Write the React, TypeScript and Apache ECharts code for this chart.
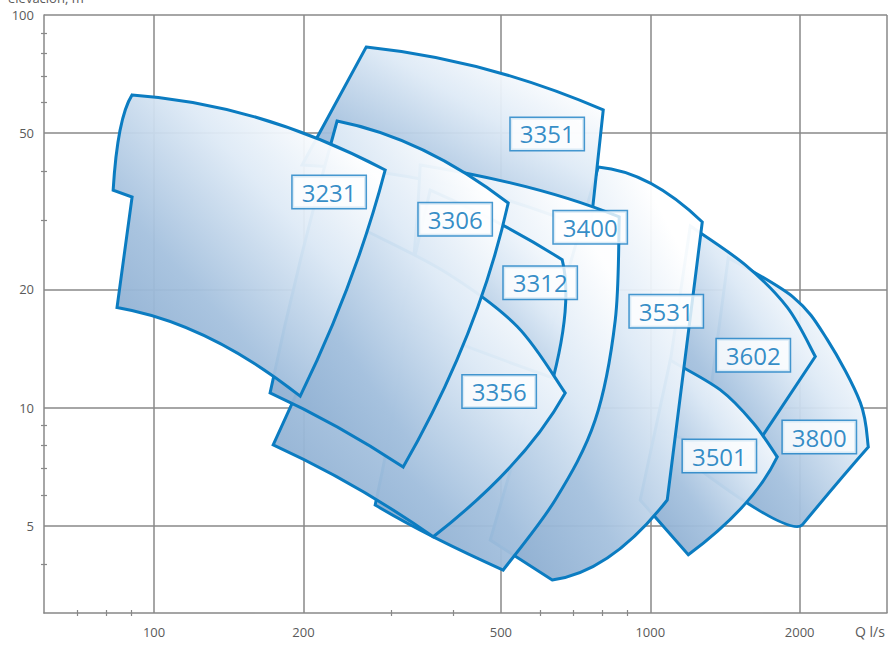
import React, { useEffect, useRef } from 'react';
import * as echarts from 'echarts';

type Pt = [number, number];

// Axis ticks
const qMajor = [100, 200, 500, 1000, 2000];
const qGrid = [100, 200, 500, 1000, 2000, 3000];
const qMinor = [70, 80, 90, 300, 400, 600, 700, 800, 900];
const hMajor = [5, 10, 20, 50, 100];
const hMinor = [4, 6, 7, 8, 9, 30, 40, 60, 70, 80, 90];

// Pump working ranges (Q l/s, H m), back to front
const pumpNames = ['3800', '3602', '3501', '3531', '3351', '3400', '3312', '3356', '3306', '3231'];
const labelQ = [2191, 1613, 1378, 1077, 619.8, 756.8, 600, 496, 404.4, 225.3];
const labelH = [8.42, 13.6, 7.53, 17.6, 49.8, 28.8, 20.8, 11.0, 30.2, 35.4];

const outline3800: Pt[][] = [
  [[1436, 24.1], [1943, 19.1], [2274, 14.9], [2651, 10.3], [2751, 7.94]],
  [[2751, 7.94], [2382, 6.43], [2025, 5.03]],
  [[2025, 5.03], [1746, 5.27], [1261, 6.94]],
  [[1261, 6.94], [1436, 24.1]],
];
const outline3602: Pt[][] = [
  [[1204, 29.0], [1554, 23.1], [1889, 18.0], [2151, 13.5]],
  [[2151, 13.5], [1554, 7.27]],
  [[1554, 7.27], [1047, 8.77]],
  [[1047, 8.77], [1204, 29.0]],
];
const outline3501: Pt[][] = [
  [[1097, 13.2], [1384, 11.1], [1613, 9.14], [1803, 7.49]],
  [[1803, 7.49], [1540, 5.62], [1193, 4.22]],
  [[1193, 4.22], [954.5, 5.82]],
  [[954.5, 5.82], [1097, 13.2]],
];
const outline3531: Pt[][] = [
  [[785.3, 41.0], [1000, 37.3], [1273, 29.7]],
  [[1273, 29.7], [1171, 12.7], [1082, 5.82]],
  [[1082, 5.82], [830.6, 4.19], [634.5, 3.64]],
  [[634.5, 3.64], [475.9, 4.6]],
  [[475.9, 4.6], [622.8, 14.9], [785.3, 41.0]],
];
const outline3351: Pt[][] = [
  [[267.6, 82.9], [465, 72.9], [804, 57.3]],
  [[804, 57.3], [757, 28.3]],
  [[757, 28.3], [395, 36.9], [198.8, 41.5]],
  [[198.8, 41.5], [267.6, 82.9]],
];
const outline3400: Pt[][] = [
  [[343.9, 41.5], [572.8, 36.3], [865.9, 30.6]],
  [[865.9, 30.6], [850, 16.7], [774.5, 9.3], [643.3, 5.82], [505.3, 3.86]],
  [[505.3, 3.86], [365.2, 4.69], [279, 5.65]],
  [[279, 5.65], [320.6, 15.3], [343.9, 41.5]],
];
const outline3312: Pt[][] = [
  [[360.1, 35.8], [498.4, 29.4], [664.6, 23.8]],
  [[664.6, 23.8], [673.9, 17.7], [637.4, 11.9]],
  [[637.4, 11.9], [427.6, 14.3], [313.2, 16.7]],
  [[313.2, 16.7], [360.1, 35.8]],
];
const outline3356: Pt[][] = [
  [[266.3, 28.3], [389.7, 22.0], [539.3, 16.1], [673.9, 10.9]],
  [[673.9, 10.9], [526.9, 7.15], [365.2, 4.69]],
  [[365.2, 4.69], [254.2, 6.28], [173.8, 8.04]],
  [[173.8, 8.04], [216.1, 14.9], [266.3, 28.3]],
];
const outline3306: Pt[][] = [
  [[233.8, 53.7], [348.5, 45.3], [517.3, 33.2]],
  [[517.3, 33.2], [427.6, 15.3], [317.7, 7.06]],
  [[317.7, 7.06], [233.8, 8.93], [171.3, 10.9]],
  [[171.3, 10.9], [197.9, 24.2], [233.8, 53.7]],
];
const outline3231: Pt[][] = [
  [[90.3, 62.6], [162.1, 54.7], [292.3, 40.3]],
  [[292.3, 40.3], [247.3, 20.8], [197, 10.7]],
  [[197, 10.7], [128.5, 15.1], [84.2, 18.0]],
  [[84.2, 18.0], [90.3, 34.4]],
  [[90.3, 34.4], [82.7, 35.8]],
  [[82.7, 35.8], [85.4, 50.9], [90.3, 62.6]],
];

const outlines = [
  outline3800, outline3602, outline3501, outline3531, outline3351,
  outline3400, outline3312, outline3356, outline3306, outline3231,
];

const FONT = "'Open Sans', 'Noto Sans', sans-serif";
const GRID = '#888888';
const BLUE = '#0b7cc1';

function edgePath(px: number[][]): string {
  const f = (n: number) => n.toFixed(2);
  if (px.length === 2) return `L${f(px[1][0])} ${f(px[1][1])}`;
  if (px.length === 3) {
    const cx = 2 * px[1][0] - (px[0][0] + px[2][0]) / 2;
    const cy = 2 * px[1][1] - (px[0][1] + px[2][1]) / 2;
    return `Q${f(cx)} ${f(cy)} ${f(px[2][0])} ${f(px[2][1])}`;
  }
  let s = '';
  for (let i = 0; i < px.length - 1; i++) {
    const p0 = px[i - 1] || px[i];
    const p1 = px[i];
    const p2 = px[i + 1];
    const p3 = px[i + 2] || px[i + 1];
    const c1x = p1[0] + (p2[0] - p0[0]) / 6;
    const c1y = p1[1] + (p2[1] - p0[1]) / 6;
    const c2x = p2[0] - (p3[0] - p1[0]) / 6;
    const c2y = p2[1] - (p3[1] - p1[1]) / 6;
    s += `C${f(c1x)} ${f(c1y)} ${f(c2x)} ${f(c2y)} ${f(p2[0])} ${f(p2[1])}`;
  }
  return s;
}

function buildOption(): any {
  const baseX = { type: 'log', logBase: 10, min: 60, max: 3000, gridIndex: 0, position: 'bottom' };
  const baseY = { type: 'log', logBase: 10, min: 3, max: 100, gridIndex: 0, position: 'left' };
  const minorX = (inside: boolean) => ({
    ...baseX,
    axisLine: { show: false, onZero: false },
    axisTick: { show: true, customValues: qMinor, inside, length: 3, lineStyle: { color: GRID, width: 1.2 } },
    axisLabel: { show: false },
    splitLine: { show: false },
  });
  const minorY = (inside: boolean) => ({
    ...baseY,
    axisLine: { show: false, onZero: false },
    axisTick: { show: true, customValues: hMinor, inside, length: 3, lineStyle: { color: GRID, width: 1.2 } },
    axisLabel: { show: false },
    splitLine: { show: false },
  });
  return {
    animation: false,
    backgroundColor: '#ffffff',
    grid: { left: 44, right: 4, top: 15, bottom: 32, containLabel: false, outerBoundsMode: 'none' },
    xAxis: [
      {
        ...baseX,
        axisLine: { show: true, onZero: false, lineStyle: { color: GRID, width: 1.5 } },
        axisTick: { show: false, customValues: qGrid },
        axisLabel: {
          customValues: qMajor,
          formatter: (v: number) => String(Math.round(v)),
          color: '#5a5a5a', fontSize: 13, fontFamily: FONT, margin: 12,
        },
        splitLine: { show: true, lineStyle: { color: GRID, width: 1.5 } },
      },
      minorX(false),
      minorX(true),
    ],
    yAxis: [
      {
        ...baseY,
        axisLine: { show: true, onZero: false, lineStyle: { color: GRID, width: 1.5 } },
        axisTick: { show: false, customValues: hMajor },
        axisLabel: {
          customValues: hMajor,
          formatter: (v: number) => String(Math.round(v)),
          color: '#5a5a5a', fontSize: 13, fontFamily: FONT, margin: 10,
        },
        splitLine: { show: true, lineStyle: { color: GRID, width: 1.5 } },
      },
      minorY(false),
      minorY(true),
    ],
    graphic: [
      {
        type: 'text', left: 8, top: -9,
        style: { text: 'elevación, m', fill: '#5a5a5a', fontSize: 13, fontFamily: FONT },
      },
      {
        type: 'text', left: 855, top: 624,
        style: { text: 'Q l/s', fill: '#5a5a5a', fontSize: 14, fontFamily: FONT },
      },
    ],
    series: [
      {
        type: 'custom',
        xAxisIndex: 0,
        yAxisIndex: 0,
        coordinateSystem: 'cartesian2d',
        encode: { x: 0, y: 1 },
        data: pumpNames.map((n, i) => [labelQ[i], labelH[i]]),
        clip: false,
        z: 2,
        renderItem: (params: any, api: any) => {
          const edges = outlines[params.dataIndex];
          let d = '';
          edges.forEach((edge, ei) => {
            const px = edge.map((p) => api.coord(p));
            if (ei === 0) d += `M${px[0][0].toFixed(2)} ${px[0][1].toFixed(2)}`;
            d += edgePath(px);
          });
          d += 'Z';
          return {
            type: 'path',
            shape: { pathData: d },
            style: {
              fill: {
                type: 'linear', x: 0, y: 1, x2: 1, y2: 0,
                colorStops: [
                  { offset: 0, color: 'rgba(132,167,204,0.96)' },
                  { offset: 0.33, color: 'rgba(165,193,222,0.95)' },
                  { offset: 0.62, color: 'rgba(222,234,246,0.95)' },
                  { offset: 0.85, color: 'rgba(255,255,255,0.96)' },
                  { offset: 1, color: 'rgba(255,255,255,0.96)' },
                ],
              },
              stroke: BLUE,
              lineWidth: 3,
              lineJoin: 'miter',
            },
          };
        },
      },
      {
        type: 'scatter',
        xAxisIndex: 0,
        yAxisIndex: 0,
        z: 10,
        silent: true,
        symbolSize: 0,
        data: pumpNames.map((n, i) => [labelQ[i], labelH[i], n]),
        label: {
          show: true,
          position: 'inside',
          formatter: (p: any) => p.data[2],
          fontFamily: FONT,
          fontSize: 24,
          lineHeight: 26,
          color: '#0070b8',
          backgroundColor: '#ffffff',
          borderColor: '#1a7fc4',
          borderWidth: 1.5,
          padding: [3, 9, 3, 9],
        },
      },
    ],
  };
}

export default function App() {
  const ref = useRef<HTMLDivElement>(null);
  useEffect(() => {
    const chart = echarts.init(ref.current as HTMLDivElement, null, { renderer: 'svg' });
    chart.setOption(buildOption());
    return () => chart.dispose();
  }, []);
  return (
    <div
      ref={ref}
      style={{ position: 'fixed', left: 0, top: 0, width: 891, height: 645, background: '#fff' }}
    />
  );
}
